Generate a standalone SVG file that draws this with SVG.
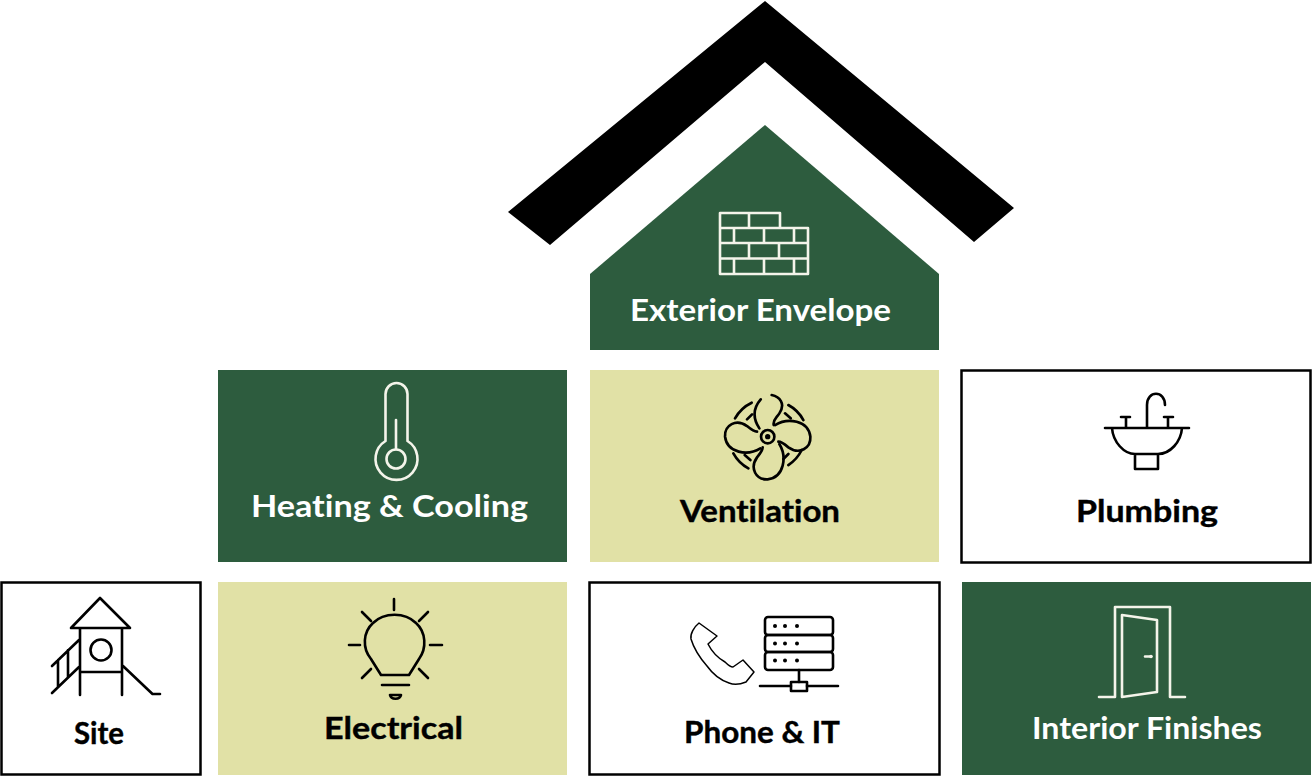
<svg xmlns="http://www.w3.org/2000/svg" width="1313" height="778" viewBox="0 0 1313 778">
<style>
.g{fill:#2d5c3e}
.y{fill:#e1e1a6}
.w{fill:#fff;stroke:#000;stroke-width:2.500}
.t{font-family:"Lato","Liberation Sans",sans-serif;font-weight:700;font-size:30px;font-variant-ligatures:none}
.tk{fill:#000;stroke:#000;stroke-width:.4}
.tw{fill:#fff}
.ik{fill:none;stroke:#000;stroke-width:2.600;stroke-linecap:round;stroke-linejoin:round}
.iw{fill:none;stroke:#f4f4ea;stroke-width:2.600;stroke-linecap:round;stroke-linejoin:round}
</style>
<rect width="1313" height="778" fill="#fff"/>
<g id="roof"><polygon points="765,1 1014,208 974,242 765,62 550,245 508,212" fill="#000"/></g>
<g id="exterior-envelope">
<polygon class="g" points="765,125 939,274 939,350 590,350 590,274"/>
<path class="iw" d="M720,213H780V228H808V274H720ZM720,228H780M720,243H808M720,258.500H808M749,213V228M734,228V243M764,228V243M794,228V243M749,243V258.500M779,243V258.500M734,258.500V274M764,258.500V274M794,258.500V274"/>
<text class="t tw" x="630" y="321" textLength="261" lengthAdjust="spacingAndGlyphs">Exterior Envelope</text>
</g>
<g id="heating-cooling">
<rect class="g" x="218" y="370" width="349" height="192"/>
<path class="iw" d="M385.500,441V394a11,11 0 0 1 22,0V441A21,21 0 1 1 385.500,441Z"/>
<circle class="iw" cx="396" cy="459" r="9.500"/>
<path class="iw" d="M396,420V449"/>
<text class="t tw" x="251" y="517" textLength="277" lengthAdjust="spacingAndGlyphs">Heating &amp; Cooling</text>
</g>
<g id="ventilation">
<rect class="y" x="590" y="370" width="349" height="192"/>
<g transform="translate(767.700,436.700) scale(.3333)">
<g class="ik" style="stroke-width:8">
<circle r="20"/><circle r="4" fill="#000"/>
<path d="M22,-35C60,-58 122,-50 128,0C130,35 95,55 62,32C50,22 40,15 32,15"/>
<path d="M35,22C58,60 50,122 0,128C-35,130 -55,95 -32,62C-22,50 -15,40 -15,32"/>
<path d="M-22,35C-60,58 -122,50 -128,0C-130,-35 -95,-55 -62,-32C-50,-22 -40,-15 -32,-15"/>
<path d="M12,-125C35,-120 55,-100 35,-70C25,-55 15,-50 18,-35M-21,-112C-40,-90 -48,-60 -25,-25"/>
<path d="M62,-95A113,113 0 0 1 107,-50M102,40A113,113 0 0 1 62,85M-58,95A113,113 0 0 1 -103,50M-98,-55A113,113 0 0 1 -48,-102"/>
<path d="M52,-70L69,-55M62,52L47,67M-52,70L-69,55M-62,-52L-47,-67"/>
</g>
</g>
<text class="t tk" x="680" y="522" textLength="160" lengthAdjust="spacingAndGlyphs">Ventilation</text>
</g>
<g id="plumbing">
<rect class="w" x="961.500" y="370.500" width="349" height="192"/>
<path class="ik" d="M1105,428H1189M1112,428C1113,442 1124,454 1135,454H1158C1170,454 1181,442 1182,428M1135,454V469H1158V454M1147,428V405C1147,390 1165,390 1165,405M1126,428V417M1121,417H1130M1168,428V417M1164,417H1173"/>
<text class="t tk" x="1076" y="522" textLength="142" lengthAdjust="spacingAndGlyphs">Plumbing</text>
</g>
<g id="site">
<rect class="w" x="1.500" y="582.500" width="199" height="192"/>
<path class="ik" d="M100,598L71,628H130ZM80,628V695M122,628V695M80,672H122M52,666L79,640M52,693L79,667M58,660V687M68,650V677M123,666L152.500,694H160"/>
<circle class="ik" cx="101" cy="650" r="10.500"/>
<text class="t tk" x="74" y="744" textLength="50" lengthAdjust="spacingAndGlyphs">Site</text>
</g>
<g id="electrical">
<rect class="y" x="218" y="582" width="349" height="193"/>
<path class="ik" d="M381,675H409L419,659C427,648 426,632 416,623C405,612 384,612 373,623C363,632 362,648 371,659ZM394,599V610M349,645H360M430,645H442M362,612L371,621M428,612L419,621M362,678L371,669M428,678L419,669M382,685H409M390,695H401C400,700 391,700 390,695Z"/>
<text class="t tk" x="324" y="739" textLength="139" lengthAdjust="spacingAndGlyphs">Electrical</text>
</g>
<g id="phone-it">
<rect class="w" x="589.500" y="582.500" width="350" height="192"/>
<path class="ik" style="stroke-width:1.500" d="M699,623L717,636L708,644C712,652 718,658 725,662C728,665 731,667 733,667L743,660L754,672L746,682C741,684 734,685 729,683C720,680 712,673 707,666C700,658 694,649 691,639C690,634 694,627 699,623Z"/>
<rect class="ik" x="765" y="617" width="68" height="18" rx="3"/>
<rect class="ik" x="765" y="635" width="68" height="17" rx="3"/>
<rect class="ik" x="765" y="652" width="68" height="18" rx="3"/>
<path class="ik" d="M799,670V682M760,686H791M807,686H838"/>
<rect class="ik" x="791" y="682" width="16" height="9"/>
<g fill="#000"><circle cx="775" cy="626" r="2"/><circle cx="785" cy="626" r="2"/><circle cx="797" cy="626" r="2"/><circle cx="775" cy="643.500" r="2"/><circle cx="785" cy="643.500" r="2"/><circle cx="797" cy="643.500" r="2"/><circle cx="775" cy="660.500" r="2"/><circle cx="785" cy="660.500" r="2"/><circle cx="797" cy="660.500" r="2"/></g>
<text class="t tk" x="684" y="743" textLength="156" lengthAdjust="spacingAndGlyphs">Phone &amp; IT</text>
</g>
<g id="interior-finishes">
<rect class="g" x="962" y="582" width="349" height="193"/>
<path class="iw" d="M1099,697H1115V607H1170V697H1185M1122,615L1157,620V692L1122,697ZM1145,656.500H1151"/>
<circle cx="1151" cy="656.500" r="1.800" fill="#f4f4ea"/>
<text class="t tw" x="1032" y="739" textLength="230" lengthAdjust="spacingAndGlyphs">Interior Finishes</text>
</g>
</svg>
